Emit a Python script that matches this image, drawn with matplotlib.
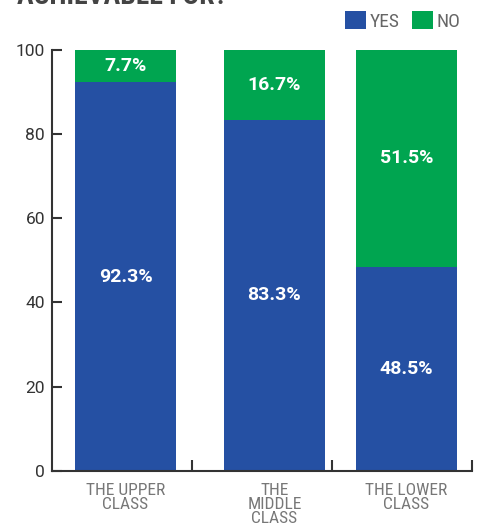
import matplotlib
matplotlib.use("Agg")
import matplotlib.pyplot as plt
from matplotlib import font_manager

# data
CATEGORIES = ["THE UPPER\nCLASS", "THE\nMIDDLE\nCLASS", "THE LOWER\nCLASS"]
YES_VALUES = [92.3, 83.3, 48.5]
NO_VALUES = [7.7, 16.7, 51.5]
YES_LABELS = ["92.3%", "83.3%", "48.5%"]
NO_LABELS = ["7.7%", "16.7%", "51.5%"]
Y_TICKS = [0, 20, 40, 60, 80, 100]

# layout / style
BAR_POS = [0.525, 1.589, 2.532]
BAR_WIDTH = 0.72
BLUE = "#2550A3"
GREEN = "#00A550"
AXIS_COLOR = "#333333"
LABEL_GRAY = "#777777"

installed = {f.name for f in font_manager.fontManager.ttflist}
COND = [f for f in ["Roboto Condensed", "Liberation Sans Narrow", "Roboto", "DejaVu Sans"] if f in installed]
REG = [f for f in ["Roboto", "DejaVu Sans"] if f in installed]
plt.rcParams["font.family"] = COND

fig = plt.figure(figsize=(4.82, 5.29), dpi=100)
ax = fig.add_axes([52 / 482, (529 - 470.7) / 529, 420 / 482, 420.7 / 529])

ax.bar(BAR_POS, YES_VALUES, width=BAR_WIDTH, color=BLUE, label="YES")
ax.bar(BAR_POS, NO_VALUES, width=BAR_WIDTH, bottom=YES_VALUES, color=GREEN, label="NO")

for x, y, n, ly, ln in zip(BAR_POS, YES_VALUES, NO_VALUES, YES_LABELS, NO_LABELS):
    ax.text(x, y / 2, ly, ha="center", va="center", color="white",
            fontsize=14, fontweight="bold", family=REG)
    ax.text(x, y + n / 2, ln, ha="center", va="center", color="white",
            fontsize=14, fontweight="bold", family=REG)

ax.set_xlim(0, 3)
ax.set_ylim(0, 100)

for s in ["top", "right"]:
    ax.spines[s].set_visible(False)
for s in ["left", "bottom"]:
    ax.spines[s].set_color(AXIS_COLOR)
    ax.spines[s].set_linewidth(1.5)

ax.set_yticks(Y_TICKS)
ax.set_yticklabels([str(v) for v in Y_TICKS], family=REG)
ax.tick_params(axis="y", colors=AXIS_COLOR, labelsize=12.5, length=7, width=1.5,
               direction="in", pad=5)

ax.set_xticks(BAR_POS)
ax.set_xticklabels(CATEGORIES, color=LABEL_GRAY, fontsize=12.5, linespacing=0.92)
ax.tick_params(axis="x", length=0, pad=9)
ax.set_xticks([1, 2, 3], minor=True)
ax.tick_params(axis="x", which="minor", direction="in", length=8, width=1.5, color=AXIS_COLOR)

leg = fig.legend(loc="upper right", bbox_to_anchor=(0.978, 1.0), ncol=2, frameon=False,
                 handlelength=1.1, handleheight=1.1, handletextpad=0.2, columnspacing=0.6,
                 fontsize=14, borderaxespad=0.15)
for t in leg.get_texts():
    t.set_color("#666666")

# title, mostly cut off at the top edge
fig.text(17 / 482, 1 - 4 / 529, "ACHIEVABLE FOR?", ha="left", va="baseline",
         fontsize=20, fontweight="heavy", color="#444444")

fig.savefig("out.png", dpi=100)
